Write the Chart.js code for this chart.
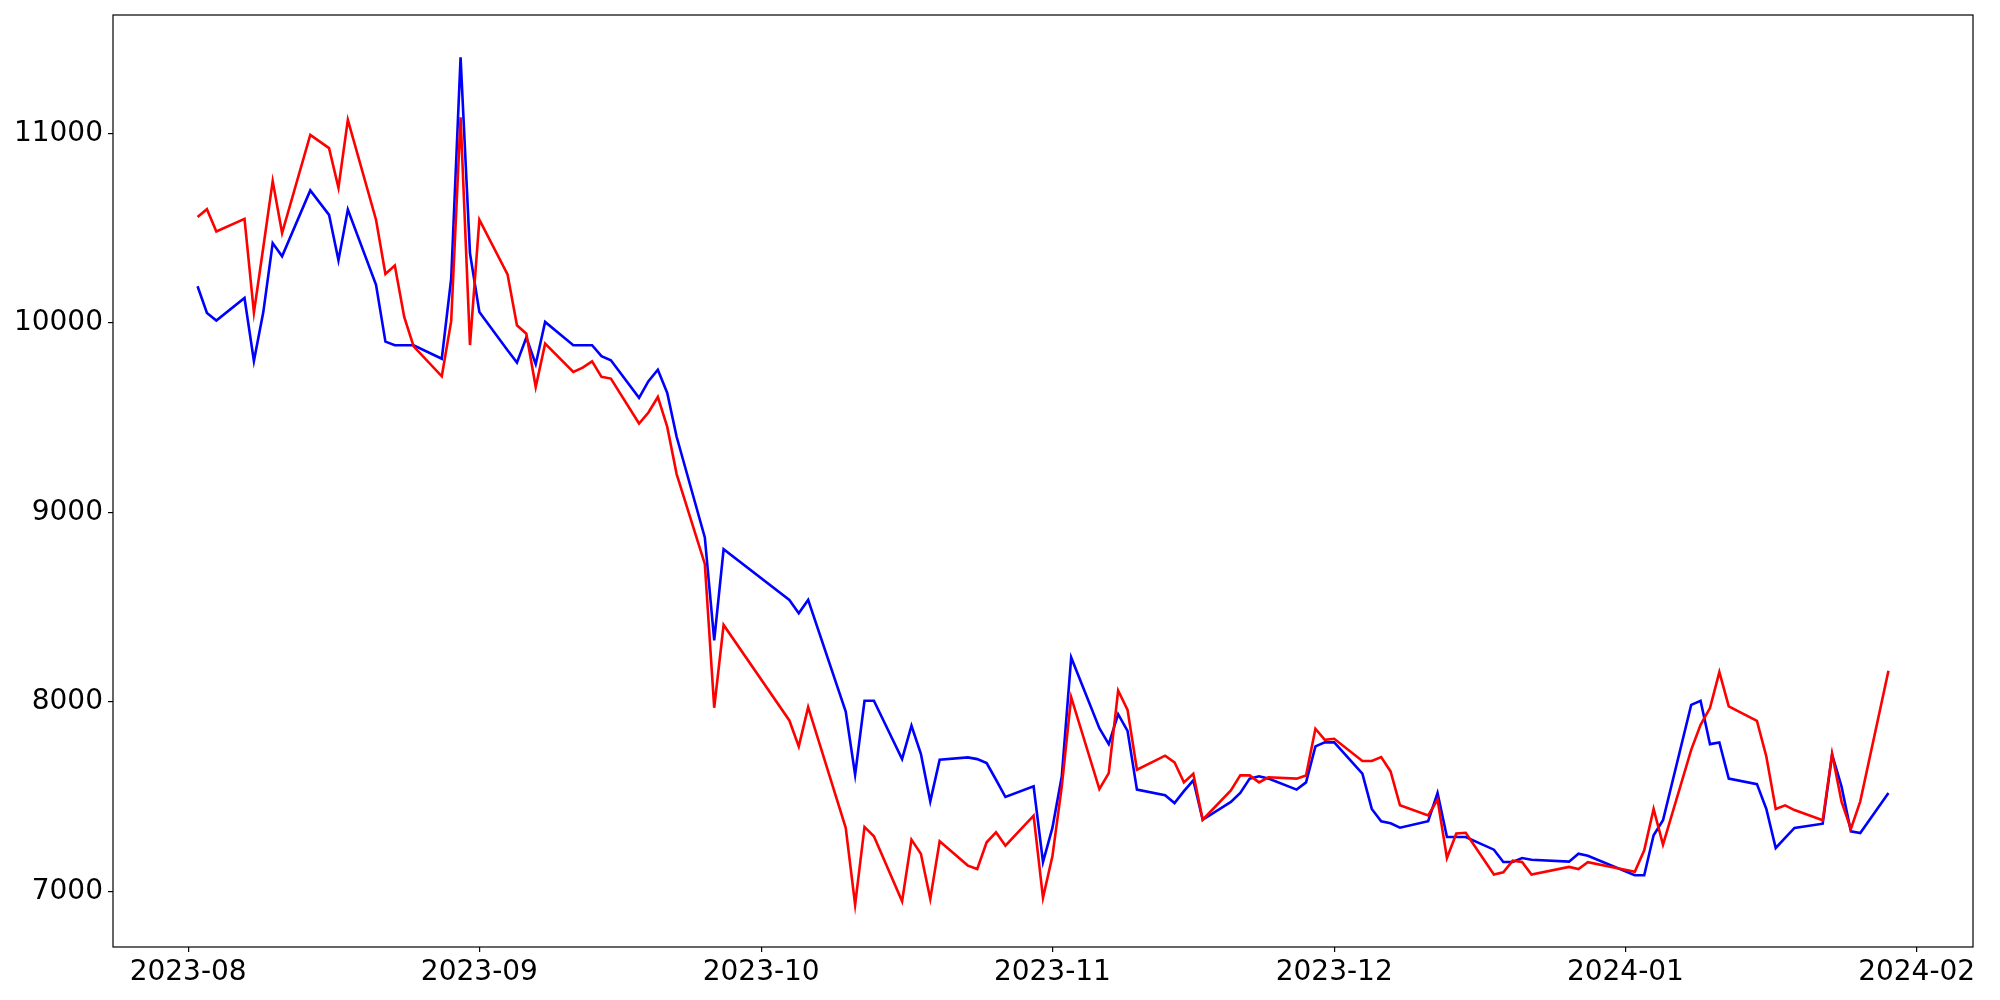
<!DOCTYPE html>
<html>
<head>
<meta charset="utf-8">
<script src="https://cdn.jsdelivr.net/npm/chart.js@4/dist/chart.umd.min.js"></script>
<style>
  html, body { margin: 0; padding: 0; background: #fff; }
  canvas { display: block; }
</style>
</head>
<body>
<canvas id="chart" width="2000" height="1000"></canvas>
<script>
// trading days (KRX calendar, holidays skipped)
const dates = [
  "2023-08-02","2023-08-03","2023-08-04","2023-08-07","2023-08-08","2023-08-09","2023-08-10","2023-08-11",
  "2023-08-14","2023-08-16","2023-08-17","2023-08-18","2023-08-21","2023-08-22","2023-08-23","2023-08-24",
  "2023-08-25","2023-08-28","2023-08-29","2023-08-30","2023-08-31",
  "2023-09-01","2023-09-04","2023-09-05","2023-09-06","2023-09-07","2023-09-08","2023-09-11","2023-09-12",
  "2023-09-13","2023-09-14","2023-09-15","2023-09-18","2023-09-19","2023-09-20","2023-09-21","2023-09-22",
  "2023-09-25","2023-09-26","2023-09-27",
  "2023-10-04","2023-10-05","2023-10-06","2023-10-10","2023-10-11","2023-10-12","2023-10-13","2023-10-16",
  "2023-10-17","2023-10-18","2023-10-19","2023-10-20","2023-10-23","2023-10-24","2023-10-25","2023-10-26",
  "2023-10-27","2023-10-30","2023-10-31",
  "2023-11-01","2023-11-02","2023-11-03","2023-11-06","2023-11-07","2023-11-08","2023-11-09","2023-11-10",
  "2023-11-13","2023-11-14","2023-11-15","2023-11-16","2023-11-17","2023-11-20","2023-11-21","2023-11-22",
  "2023-11-23","2023-11-24","2023-11-27","2023-11-28","2023-11-29","2023-11-30",
  "2023-12-01","2023-12-04","2023-12-05","2023-12-06","2023-12-07","2023-12-08","2023-12-11","2023-12-12",
  "2023-12-13","2023-12-14","2023-12-15","2023-12-18","2023-12-19","2023-12-20","2023-12-21","2023-12-22",
  "2023-12-26","2023-12-27","2023-12-28",
  "2024-01-02","2024-01-03","2024-01-04","2024-01-05","2024-01-08","2024-01-09","2024-01-10","2024-01-11",
  "2024-01-12","2024-01-15","2024-01-16","2024-01-17","2024-01-18","2024-01-19","2024-01-22","2024-01-23",
  "2024-01-24","2024-01-25","2024-01-26","2024-01-29"
];

const redSeries = [
  10559, 10601, 10483, 10550, 10055, 10400, 10749, 10475, 10993, 10923, 10714, 11072, 10545, 10259, 10303, 10032,
  9877, 9719, 10010, 11086, 9884,
  10545, 10257, 9988, 9944, 9663, 9891, 9742, 9765, 9798, 9716, 9707, 9470, 9528, 9610, 9452, 9203,
  8729, 7970, 8407,
  7903, 7766, 7973, 7336, 6931, 7341, 7292, 6949, 7274, 7200, 6961, 7265, 7137, 7119, 7260, 7313,
  7242, 7401, 6967,
  7186, 7555, 8026, 7541, 7625, 8061, 7959, 7643, 7717, 7682, 7576, 7622, 7379, 7534, 7613, 7613,
  7576, 7603, 7596, 7613, 7859, 7801,
  7806, 7689, 7689, 7710, 7634, 7455, 7402, 7485, 7177, 7306, 7310, 7090, 7102, 7163, 7156, 7090,
  7130, 7119, 7155,
  7104, 7218, 7436, 7248, 7748, 7880, 7968, 8158, 7977, 7901, 7713, 7436, 7455, 7430, 7376, 7727,
  7476, 7330, 7476, 8165
];

const blueSeries = [
  10194, 10053, 10013, 10132, 9800, 10058, 10422, 10352, 10700, 10571, 10331, 10599, 10202, 9902, 9883, 9883,
  9883, 9812, 10234, 11402, 10369,
  10058, 9856, 9791, 9923, 9783, 10006, 9883, 9883, 9883, 9825, 9804, 9605, 9693, 9754, 9631, 9400,
  8869, 8325, 8806,
  8539, 8469, 8539, 7950, 7617, 8007, 8007, 7699, 7875, 7727, 7476, 7696, 7708, 7699, 7678, 7590,
  7499, 7555, 7156,
  7336, 7608, 8235, 7862, 7778, 7936, 7848, 7538, 7508, 7467, 7530, 7587, 7379, 7473, 7520, 7596,
  7608, 7596, 7538, 7576, 7766, 7787,
  7787, 7622, 7436, 7371, 7360, 7337, 7371, 7520, 7288, 7288, 7288, 7221, 7156, 7156, 7177, 7168,
  7158, 7200, 7189,
  7086, 7086, 7297, 7376, 7985, 8007, 7778, 7787, 7596, 7567, 7436, 7230, 7283, 7336, 7358, 7722,
  7555, 7318, 7309, 7520
];

const xTickLabels = ["2023-08", "2023-09", "2023-10", "2023-11", "2023-12", "2024-01", "2024-02"];
const yTickValues = [7000, 8000, 9000, 10000, 11000];

// matplotlib-like 5% margins around the data
const xs = dates.map(d => Date.parse(d));
const xPad = (xs[xs.length - 1] - xs[0]) * 0.05;
const allY = redSeries.concat(blueSeries);
const yLo = Math.min(...allY), yHi = Math.max(...allY);
const yPad = (yHi - yLo) * 0.05;

const tickFont = { family: "DejaVu Sans", size: 28 };

const frame = {
  id: "frame",
  afterDraw(chart) {
    const { ctx, chartArea: a } = chart;
    ctx.save();
    ctx.strokeStyle = "#000";
    ctx.lineWidth = 1.2;
    ctx.strokeRect(a.left, a.top, a.right - a.left, a.bottom - a.top);
    ctx.restore();
  }
};

const ctx = document.getElementById("chart").getContext("2d");
new Chart(ctx, {
  type: "line",
  data: {
    datasets: [
      {
        data: xs.map((x, i) => ({ x: x, y: redSeries[i] })),
        borderColor: "#ff0000",
        borderWidth: 2.6,
        pointRadius: 0,
        tension: 0,
        fill: false
      },
      {
        data: xs.map((x, i) => ({ x: x, y: blueSeries[i] })),
        borderColor: "#0000ff",
        borderWidth: 2.6,
        pointRadius: 0,
        tension: 0,
        fill: false
      }
    ]
  },
  options: {
    responsive: false,
    animation: false,
    devicePixelRatio: 1,
    layout: { padding: { top: 15, right: 27, left: 0, bottom: 0 } },
    plugins: {
      legend: { display: false },
      tooltip: { enabled: false }
    },
    scales: {
      x: {
        type: "linear",
        min: xs[0] - xPad,
        max: xs[xs.length - 1] + xPad,
        afterFit: s => { s.height = 53; s.paddingLeft = 0; s.paddingRight = 0; },
        afterBuildTicks: s => {
          s.ticks = xTickLabels.map(l => ({ value: Date.parse(l + "-01") }));
        },
        ticks: {
          autoSkip: false,
          maxRotation: 0,
          padding: 4,
          color: "#000",
          font: tickFont,
          callback: v => {
            const d = new Date(v);
            return d.getUTCFullYear() + "-" + String(d.getUTCMonth() + 1).padStart(2, "0");
          }
        },
        grid: { drawOnChartArea: false, drawTicks: true, tickLength: 5, color: "#000", lineWidth: 1.2 },
        border: { display: false }
      },
      y: {
        type: "linear",
        min: yLo - yPad,
        max: yHi + yPad,
        afterFit: s => { s.width = 113; s.paddingTop = 0; s.paddingBottom = 0; },
        afterBuildTicks: s => {
          s.ticks = yTickValues.map(v => ({ value: v }));
        },
        ticks: {
          padding: 5,
          color: "#000",
          font: tickFont,
          callback: v => String(v)
        },
        grid: { drawOnChartArea: false, drawTicks: true, tickLength: 5, color: "#000", lineWidth: 1.2 },
        border: { display: false }
      }
    }
  },
  plugins: [frame]
});
</script>
</body>
</html>
